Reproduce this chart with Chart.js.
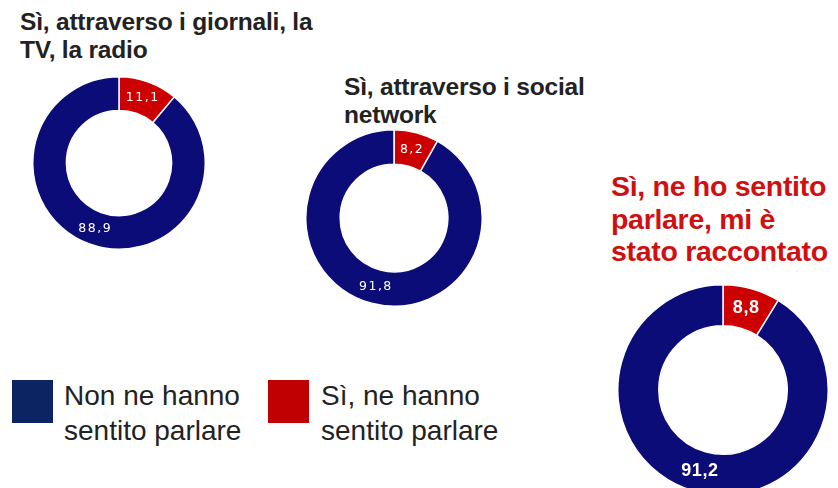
<!DOCTYPE html>
<html>
<head>
<meta charset="utf-8">
<script src="https://cdn.jsdelivr.net/npm/chart.js@4.4.1/dist/chart.umd.min.js"></script>
<style>
  html, body { margin: 0; padding: 0; background: #fff; width: 838px; height: 488px; overflow: hidden; }
  body { position: relative; font-family: 'Liberation Sans', Arial, sans-serif; }
  .title { position: absolute; font-weight: bold; color: #222; font-size: 24.5px; line-height: 28px; white-space: nowrap; letter-spacing: -0.2px; }
  .title.red { color: #d01010; font-size: 28.5px; line-height: 32.5px; letter-spacing: -0.3px; }
  canvas { position: absolute; }
  .leg { position: absolute; font-size: 28px; line-height: 35px; color: #222; white-space: nowrap; }
  .sq { position: absolute; width: 41px; height: 43px; }
</style>
</head>
<body>
<div id="t0" class="title" style="left:20px; top:8px;"></div>
<div id="t1" class="title" style="left:344px; top:73px;"></div>
<div id="t2" class="title red" style="left:611px; top:170px;"></div>

<canvas id="c0" width="174" height="174" style="left:32px; top:76px;"></canvas>
<canvas id="c1" width="178" height="178" style="left:305px; top:129px;"></canvas>
<canvas id="c2" width="212" height="212" style="left:617px; top:284px;"></canvas>

<div class="sq" style="left:12px; top:380px; background:#0c2461;"></div>
<div id="l0" class="leg" style="left:64px; top:378px;"></div>
<div class="sq" style="left:268px; top:380px; background:#c00000;"></div>
<div id="l1" class="leg" style="left:321px; top:378px;"></div>

<script>
const categories = [
  ['Sì, attraverso i giornali, la', 'TV, la radio'],
  ['Sì, attraverso i social', 'network'],
  ['Sì, ne ho sentito', 'parlare, mi è', 'stato raccontato'],
]
const seriesLabels = [['Non ne hanno', 'sentito parlare'], ['Sì, ne hanno', 'sentito parlare']]
const nonValues = [88.9, 91.8, 91.2]
const siValues = [11.1, 8.2, 8.8]

const NAVY = '#0b0c78'
const RED = '#cc0000'

const fmt = (v) => v.toFixed(1).replace('.', ',')

// writes each value in the middle of its own arc
const valueLabels = {
  id: 'valueLabels',
  afterDatasetsDraw(chart, args, opts) {
    const { ctx } = chart
    const meta = chart.getDatasetMeta(0)
    const data = chart.data.datasets[0].data
    ctx.save()
    ctx.fillStyle = '#fff'
    ctx.font = opts.font
    ctx.letterSpacing = opts.spacing
    ctx.textAlign = 'center'
    ctx.textBaseline = 'middle'
    meta.data.forEach((arc, i) => {
      const p = arc.tooltipPosition()
      ctx.fillText(fmt(data[i]), p.x, p.y)
    })
    ctx.restore()
  },
}

function makeDonut(idx) {
  const ctx = document.getElementById('c' + idx).getContext('2d')
  const big = idx === 2
  new Chart(ctx, {
    type: 'doughnut',
    data: {
      labels: [seriesLabels[1].join(' '), seriesLabels[0].join(' ')],
      datasets: [
        {
          data: [siValues[idx], nonValues[idx]],
          backgroundColor: [RED, NAVY],
          borderColor: '#ffffff',
          borderWidth: 1.5,
        },
      ],
    },
    options: {
      responsive: false,
      animation: false,
      cutout: '61%',
      layout: { padding: 0 },
      plugins: {
        legend: { display: false },
        tooltip: { enabled: false },
        valueLabels: {
          font: big ? 'bold 18px "Liberation Sans Narrow", "Liberation Sans", sans-serif' : '12.5px "DejaVu Sans", sans-serif',
          spacing: big ? '0.5px' : '1.5px',
        },
      },
    },
    plugins: [valueLabels],
  })
}

;(() => {
  categories.forEach((lines, i) => {
    document.getElementById('t' + i).innerHTML = lines.join('<br>')
    makeDonut(i)
  })
  seriesLabels.forEach((lines, i) => {
    document.getElementById('l' + i).innerHTML = lines.join('<br>')
  })
})()
</script>
</body>
</html>
